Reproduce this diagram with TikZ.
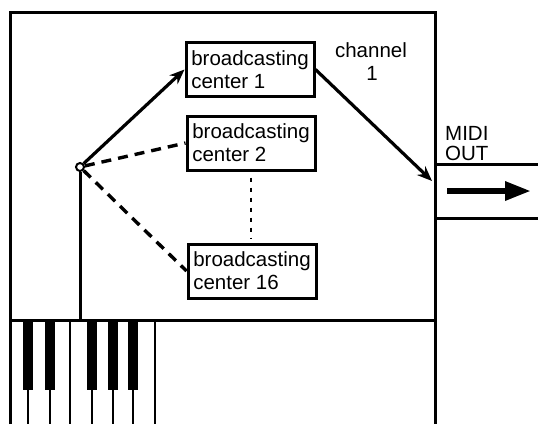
\documentclass[tikz,border=0pt]{standalone}
\usepackage{fontspec}
\setmainfont{Liberation Sans}
\usetikzlibrary{arrows.meta}
\begin{document}
\begin{tikzpicture}[x=1pt,y=-1pt,
  frame/.style={line width=3pt},
  thin/.style={line width=2.2pt},
  center/.style={draw,line width=3pt,align=left,inner xsep=5pt,inner ysep=3pt,minimum width=128pt,minimum height=54pt,font=\fontsize{20.5}{23}\selectfont},
  lbl/.style={font=\fontsize{20.5}{22}\selectfont,inner sep=0pt},
  sol/.style={line width=3.2pt,-{Stealth[length=15pt,width=12pt]}},
  dsh/.style={line width=3.4pt,dash pattern=on 10pt off 7pt},
  dot/.style={line width=2.6pt,dash pattern=on 4pt off 6pt},
  bkey/.style={fill=black,draw=none}]
\useasboundingbox (0,0) rectangle (538,424);
% frame
\draw[frame] (10,424) -- (10,12) -- (435,12) -- (435,424);
\draw[frame] (10,320) -- (435,320);
\draw[frame] (435,164) -- (538,164);
\draw[frame] (435,218) -- (538,218);
% keyboard
\foreach \x in {28,50,92,113,133}{
  \fill[bkey] (\x-5,320) rectangle (\x+5,390);
  \draw[thin] (\x,320) -- (\x,424);
}
\draw[thin] (70,320) -- (70,424);
\draw[thin] (155,320) -- (155,424);
% nodes
\node[center] (b1) at (250,69.5) {broadcasting\\center 1};
\node[center] (b2) at (251,143) {broadcasting\\center 2};
\node[center] (b16) at (252,271) {broadcasting\\center 16};
\node[draw,circle,line width=2pt,fill=white,inner sep=0pt,minimum size=8pt] (src) at (80,167) {};
\coordinate (kbtop) at (80,320);
\coordinate (chin) at (432,181);
\node[lbl] (ch) at (371,50) {channel};
\node[lbl] (ch1) at (372,73) {1};
\node[lbl,anchor=west] (midi) at (445,133) {MIDI};
\node[lbl,anchor=west] (out) at (445,153) {OUT};
\coordinate (oa) at (447,191);
\coordinate (ob) at (531,191);
% connectors
\draw[line width=3pt] (src) -- (kbtop);
\draw[sol] (src) -- (b1.west);
\draw[dsh] (src) -- (b2.west);
\draw[dsh] (src) -- (b16.west);
\draw[dot,shorten <=6pt,shorten >=4pt] (b2.south) -- (b2.south |- b16.north);
\draw[sol] (b1.east) -- (chin);
\draw[line width=6pt,-{Triangle[length=26pt,width=18pt]}] (oa) -- (ob);
\end{tikzpicture}
\end{document}
